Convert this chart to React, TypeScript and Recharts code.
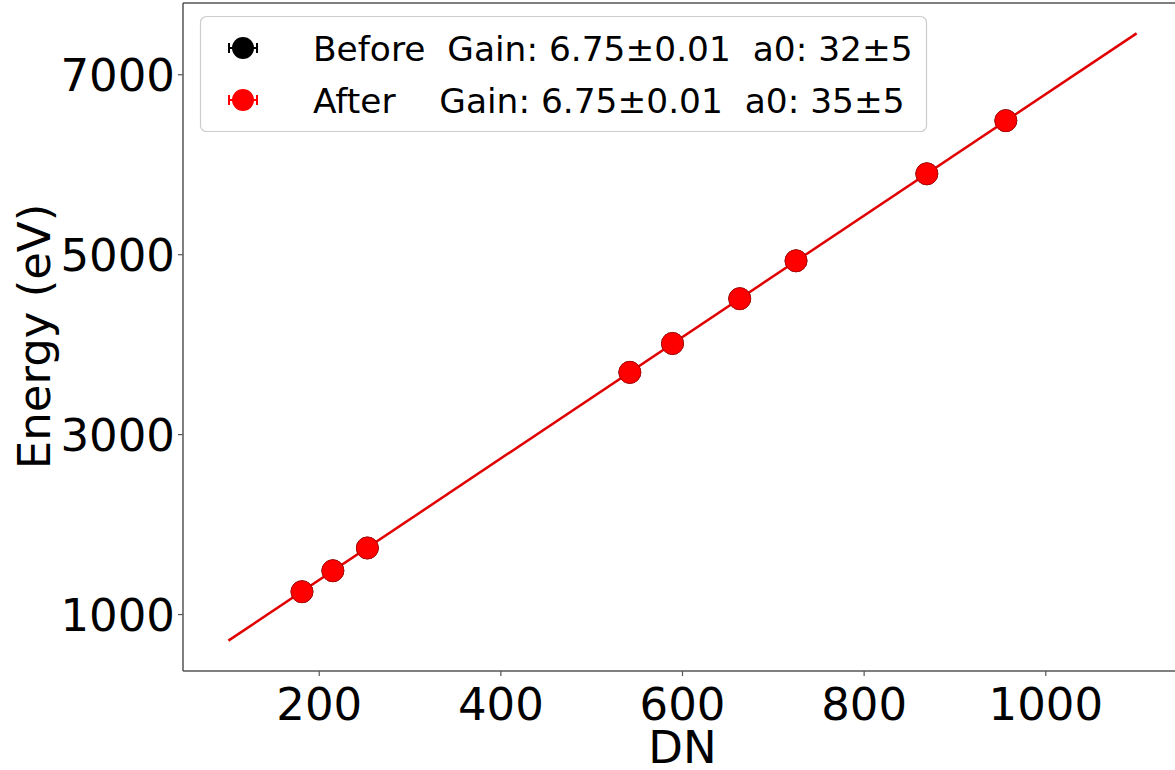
import { ReferenceLine, Scatter, ScatterChart, XAxis, YAxis } from "recharts"

// calibration lines: DN vs energy (eV)
const DN = [181, 215, 253, 542, 589, 663, 725, 869, 956]
const ENERGY_BEFORE = [1254, 1487, 1740, 3692, 4013, 4511, 4932, 5899, 6490]
const ENERGY_AFTER = [1254, 1487, 1740, 3692, 4013, 4511, 4932, 5899, 6490]

// linear fit drawn from DN 100 to 1100
const FIT_DN = [100, 1100]
const FIT_ENERGY = [710, 7460]

const X_TICKS = [200, 400, 600, 800, 1000]
const Y_TICKS = [1000, 3000, 5000, 7000]
const X_DOMAIN = [50, 1150]
const Y_DOMAIN = [372.5, 7797.5]

const LEGEND_ROWS = [
  { label: "Before  Gain: 6.75±0.01  a0: 32±5", color: "#000000" },
  { label: "After    Gain: 6.75±0.01  a0: 35±5", color: "#ff0000" },
]

const FONT = "'DejaVu Sans', sans-serif"
const FRAME = "#555555"

const before = DN.map((x, i) => ({ x, y: ENERGY_BEFORE[i] }))
const after = DN.map((x, i) => ({ x, y: ENERGY_AFTER[i] }))
const fit = FIT_DN.map((x, i) => ({ x, y: FIT_ENERGY[i] }))

function dot(color: string, edge: string) {
  return (props: any) => (
    <circle cx={props.cx} cy={props.cy} r={11} fill={color} stroke={edge} strokeWidth={0.8} />
  )
}

function Legend() {
  return (
    <g>
      <rect x={200.5} y={16.5} width={726} height={115} rx={6} fill="rgba(255,255,255,0.8)" stroke="#cccccc" strokeWidth={1.2} />
      {LEGEND_ROWS.map((row, i) => {
        const cy = 48 + i * 52
        return (
          <g key={row.label}>
            <line x1={229} x2={257} y1={cy} y2={cy} stroke={row.color} strokeWidth={2} />
            <line x1={229} x2={229} y1={cy - 5} y2={cy + 5} stroke={row.color} strokeWidth={2} />
            <line x1={257} x2={257} y1={cy - 5} y2={cy + 5} stroke={row.color} strokeWidth={2} />
            <circle cx={243} cy={cy} r={11} fill={row.color} />
            <text x={313} y={cy + 12.5} fontSize={34.4} fontFamily={FONT} fill="#000" style={{ whiteSpace: "pre" }}>
              {row.label}
            </text>
          </g>
        )
      })}
    </g>
  )
}

export default function App() {
  return (
    <div style={{ position: "fixed", left: 0, top: 0, width: 1175, height: 770, overflow: "hidden", background: "#fff" }}>
      <ScatterChart width={1182} height={770} margin={{ top: 3, right: 0, left: 0, bottom: 0 }}>
        <XAxis
          type="number"
          dataKey="x"
          domain={X_DOMAIN}
          ticks={X_TICKS}
          allowDataOverflow
          height={99}
          tickSize={5}
          tickMargin={12}
          tick={{ fontSize: 45, fontFamily: FONT, fill: "#000" }}
          stroke={FRAME}
          axisLine={{ stroke: FRAME, strokeWidth: 1.5 }}
          tickLine={{ stroke: FRAME, strokeWidth: 1.2 }}
          label={{ value: "DN", position: "insideBottom", offset: 7, fontSize: 45, fontFamily: FONT, fill: "#000" }}
        />
        <YAxis
          type="number"
          dataKey="y"
          domain={Y_DOMAIN}
          ticks={Y_TICKS}
          allowDataOverflow
          width={183}
          tickSize={5}
          tickMargin={3}
          tick={{ fontSize: 45, fontFamily: FONT, fill: "#000" }}
          axisLine={{ stroke: FRAME, strokeWidth: 1.5 }}
          tickLine={{ stroke: FRAME, strokeWidth: 1.2 }}
        />
        <ReferenceLine y={Y_DOMAIN[1]} stroke={FRAME} strokeWidth={1.5} ifOverflow="visible" />
        <Scatter
          data={fit}
          line={{ stroke: "#e00000", strokeWidth: 2.5 }}
          shape={() => <g />}
          isAnimationActive={false}
        />
        <Scatter data={before} shape={dot("#000000", "#000000")} isAnimationActive={false} />
        <Scatter data={after} shape={dot("#ff0000", "#c80000")} isAnimationActive={false} />
      </ScatterChart>
      <svg width={1175} height={770} style={{ position: "absolute", left: 0, top: 0, pointerEvents: "none" }}>
        <text
          x={50}
          y={336.5}
          transform="rotate(-90, 50, 336.5)"
          textAnchor="middle"
          fontSize={45}
          fontFamily={FONT}
          fill="#000"
        >
          Energy (eV)
        </text>
        <Legend />
      </svg>
    </div>
  )
}
